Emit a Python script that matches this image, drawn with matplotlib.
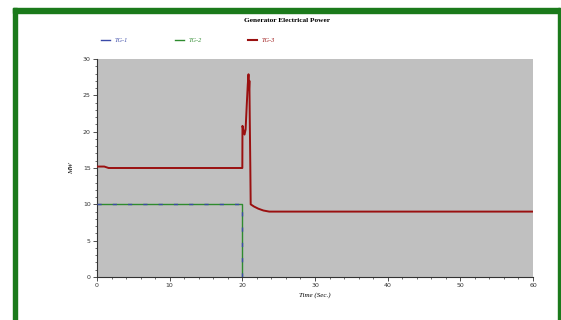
import matplotlib
matplotlib.use("Agg")
import matplotlib.pyplot as plt
from matplotlib.patches import Rectangle
from matplotlib.ticker import MultipleLocator

# Generator electrical power traces (time in seconds, power in MW)
tg1_time = [0, 20.0, 20.0]
tg1_power = [10.0, 10.0, 0.0]

tg2_time = [0, 20.0, 20.0]
tg2_power = [10.0, 10.0, 0.0]

tg3_time = [0, 1.0, 1.6, 20.0, 20.02, 20.15, 20.3, 20.45, 20.6, 20.75, 20.85,
            20.92, 20.97, 21.02, 21.1, 21.15, 21.6, 22.2, 22.9, 23.7, 25.0, 60.0]
tg3_power = [15.2, 15.2, 15.0, 15.0, 20.8, 20.2, 19.6, 20.3, 23.5, 26.5, 27.9,
             25.8, 27.0, 22.0, 15.0, 10.0, 9.7, 9.4, 9.15, 9.0, 9.0, 9.0]

series_names = ["TG-1", "TG-2", "TG-3"]

fig = plt.figure(figsize=(5.61, 3.20), dpi=100)
W, H = 561, 320

def fx(px):
    return px / W

def fy(py):
    return 1 - py / H

# green frame around the panel
green = "#1b7a1b"
fig.patches.append(Rectangle((fx(13), 0), fx(4), fy(8), transform=fig.transFigure,
                             color=green, zorder=0))
fig.patches.append(Rectangle((fx(13), fy(13)), fx(547), 5 / H,
                             transform=fig.transFigure, color=green, zorder=0))
fig.patches.append(Rectangle((fx(558), 0), fx(2), fy(8), transform=fig.transFigure,
                             color=green, zorder=0))

ax = fig.add_axes([fx(97), fy(277), fx(533 - 97), (277 - 59) / H])
ax.set_facecolor("#c0c0c0")

ax.plot(tg2_time, tg2_power, color="#2e8b2e", lw=1.0, zorder=2)
ax.plot(tg1_time, tg1_power, color="#3a4aa8", lw=1.0, ls=(0, (3, 8)), zorder=3)
ax.plot(tg3_time, tg3_power, color="#9a1010", lw=1.4, zorder=4)

ax.set_xlim(0, 60)
ax.set_ylim(0, 30)
ax.xaxis.set_major_locator(MultipleLocator(10))
ax.xaxis.set_minor_locator(MultipleLocator(2))
ax.yaxis.set_major_locator(MultipleLocator(5))
ax.yaxis.set_minor_locator(MultipleLocator(1))
ax.tick_params(which="both", direction="out", colors="#333333", labelsize=4.5,
               labelcolor="#333333", pad=1.5)
ax.tick_params(which="major", length=3, width=0.6)
ax.tick_params(which="minor", length=1.5, width=0.5)
for s in ["top", "right"]:
    ax.spines[s].set_visible(False)
for s in ["left", "bottom"]:
    ax.spines[s].set_color("#333333")
    ax.spines[s].set_linewidth(0.8)

ax.set_xlabel("Time (Sec.)", fontsize=5, family="Liberation Serif", style="italic",
              labelpad=3)
ax.set_ylabel("MW", fontsize=5, family="Liberation Serif", style="italic", labelpad=6)

fig.text(fx(287), fy(20), "Generator Electrical Power", ha="center", va="center",
         fontsize=5.3, family="Liberation Serif", weight="bold")

# legend row
legend_colors = ["#3a4aa8", "#2e8b2e", "#9a1010"]
legend_x = [101, 175, 248]
for name, c, x0 in zip(series_names, legend_colors, legend_x):
    y = fy(40)
    fig.add_artist(plt.Line2D([fx(x0), fx(x0 + 9)], [y, y], color=c,
                              lw=1.0 if c != "#9a1010" else 1.5,
                              transform=fig.transFigure))
    fig.text(fx(x0 + 14), y, name, ha="left", va="center", fontsize=4.5,
             family="Liberation Serif", style="italic", color=c)

fig.savefig("out.png", dpi=100)
